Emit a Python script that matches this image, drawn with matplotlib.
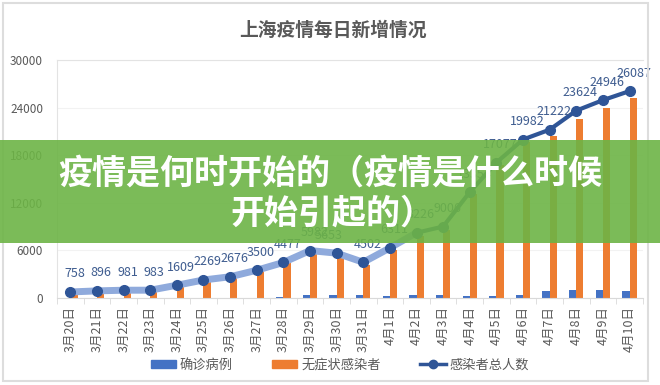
import matplotlib
matplotlib.use("Agg")
import matplotlib.pyplot as plt
import numpy as np
from matplotlib.patches import Rectangle, Patch
from matplotlib.lines import Line2D

plt.rcParams['font.family'] = ['Noto Sans CJK SC', 'DejaVu Sans']

# data
dates = ["3月20日", "3月21日", "3月22日", "3月23日", "3月24日", "3月25日", "3月26日",
         "3月27日", "3月28日", "3月29日", "3月30日", "3月31日", "4月1日", "4月2日",
         "4月3日", "4月4日", "4月5日", "4月6日", "4月7日", "4月8日", "4月9日", "4月10日"]
confirmed = [24, 31, 4, 4, 29, 38, 45, 50, 96, 326, 355, 358, 260, 438,
             425, 268, 311, 322, 824, 1015, 1006, 914]
asymptomatic = [734, 865, 977, 979, 1580, 2231, 2631, 3450, 4381, 5656, 5298, 4144, 6051, 7788,
                8581, 13086, 16766, 19660, 20398, 22609, 23937, 25173]
total = [758, 896, 981, 983, 1609, 2269, 2676, 3500, 4477, 5982, 5653, 4502, 6311, 8226,
         9006, 13354, 17077, 19982, 21222, 23624, 24946, 26087]
yticks = [0, 6000, 12000, 18000, 24000, 30000]

c_blue = '#4472C4'
c_orange = '#ED7D31'
c_line = '#2F5597'
c_text = '#595959'

fig = plt.figure(figsize=(6.6, 3.85), dpi=100)
ax = fig.add_axes([0.0864, 0.226, 0.8876, 0.618])

x = np.arange(len(dates))
w = 0.27
ax.bar(x - w / 2, confirmed, w, color=c_blue, zorder=2)
ax.bar(x + w / 2, asymptomatic, w, color=c_orange, zorder=2)

# line: light and wide on the left part, dark on the right part
split = 13
ax.plot(x[:split + 1], total[:split + 1], color='#8FAADC', lw=5, zorder=3,
        solid_capstyle='round')
ax.plot(x[split:], total[split:], color=c_line, lw=3, zorder=3, solid_capstyle='round')
ax.plot(x, total, ls='none', marker='o', ms=7, color=c_line, zorder=4)

for i, (xi, v) in enumerate(zip(x, total)):
    dx = -6 if i == 10 else 3
    ax.annotate(str(v), (xi, v), xytext=(dx, 13), textcoords='offset points',
                ha='center', va='center', fontsize=9, color='#3E5C8F', zorder=5)

ax.set_xlim(-0.5, len(dates) - 0.5)
ax.set_ylim(0, 30000)
ax.set_yticks(yticks)
ax.set_yticklabels([str(t) for t in yticks])
ax.tick_params(axis='y', length=0, pad=10, labelsize=8.5, labelcolor=c_text)
ax.set_xticks(x)
ax.set_xticklabels(dates, rotation=90, fontsize=9, color=c_text)
ax.tick_params(axis='x', length=0, pad=6)
ax.set_xticks(np.arange(-0.5, len(dates)), minor=True)
ax.tick_params(axis='x', which='minor', length=4, color='#D9D9D9')
ax.yaxis.grid(True, color='#F2F2F2', lw=0.8, zorder=0)
for s in ['left', 'top']:
    ax.spines[s].set_color('#E3E3E3')
ax.spines['right'].set_visible(False)
ax.spines['bottom'].set_color('#D9D9D9')

fig.text(0.505, 0.922, "上海疫情每日新增情况", ha='center', va='center',
         fontsize=13.5, fontweight='bold', color=c_text)

handles = [Patch(color=c_blue), Patch(color=c_orange),
           Line2D([], [], color=c_line, lw=2.5, marker='o', ms=6)]
fig.legend(handles, ["确诊病例", "无症状感染者", "感染者总人数"], loc='center',
           bbox_to_anchor=(0.515, 0.052), ncol=3, frameon=False, fontsize=9.5,
           handlelength=1.9, handleheight=0.55, columnspacing=3.0, handletextpad=0.3,
           labelcolor=c_text)

# outer frame
fig.patches.append(Rectangle((3 / 660, 4 / 385), 645 / 660, 378 / 385,
                             transform=fig.transFigure, fill=False,
                             edgecolor='#DDDDDD', lw=1.5))

# green banner overlay
fig.patches.append(Rectangle((0, 1 - 243 / 385), 1, 103 / 385, transform=fig.transFigure,
                             facecolor='#6DB446', alpha=0.9, zorder=10))
fig.text(0.5, 1 - 173 / 385, "疫情是何时开始的（疫情是什么时候", ha='center', va='center',
         fontsize=24.5, fontweight='black', color='white', zorder=11)
fig.text(0.503, 1 - 213 / 385, "开始引起的）", ha='center', va='center',
         fontsize=24.5, fontweight='black', color='white', zorder=11)

fig.savefig("out.png", dpi=100)
